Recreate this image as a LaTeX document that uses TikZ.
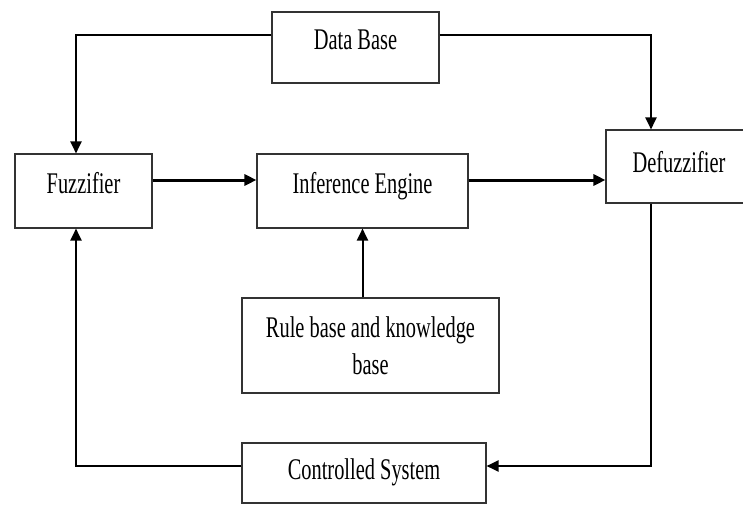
\documentclass[tikz,border=0pt]{standalone}
\usepackage{fontspec}
\newfontfamily\blkfont[FakeStretch=0.68]{Liberation Serif}
\usetikzlibrary{arrows.meta,positioning,shadows}
\tikzset{
  blk/.style={draw=black!80, line width=1.1pt, fill=white, rectangle, inner sep=0pt, align=center,
    font=\blkfont\fontsize{30}{37}\selectfont,
    drop shadow={shadow xshift=0.9pt, shadow yshift=-1.3pt, fill=black!40, opacity=1}},
  lnk/.style={line width=2pt, -{Triangle[length=12pt,width=11pt]}},
  flow/.style={line width=3pt, -{Triangle[length=12pt,width=11pt]}}
}
\begin{document}
\begin{tikzpicture}[x=1pt, y=-1pt]
  \useasboundingbox (0,0) rectangle (743,506);
  \node[blk, minimum width=167pt, minimum height=71pt, text depth=15pt] (db) at (355.5,47.5) {Data Base};
  \node[blk, minimum width=137pt, minimum height=74pt, text depth=16pt] (fz) at (83.5,191) {Fuzzifier};
  \node[blk, minimum width=211pt, minimum height=74pt, text depth=16pt] (ie) at (362.5,191) {Inference Engine};
  \node[blk, minimum width=146pt, minimum height=73pt, text depth=10pt] (dfz) at (679,166.5) {Defuzzifier};
  \node[blk, minimum width=257pt, minimum height=95pt] (rb) at (370.5,345.5) {Rule base and knowledge\\base};
  \node[blk, minimum width=244pt, minimum height=60pt, text depth=8pt] (cs) at (364,473) {Controlled System};
  \coordinate (dbl) at (76,35);
  \coordinate (dbr) at (651,35);
  \coordinate (csr) at (651,466);
  \coordinate (csl) at (76,466);
  \draw[lnk] (db.west |- dbl) -- (dbl) -- (fz.north -| dbl);
  \draw[lnk] (db.east |- dbr) -- (dbr) -- (dfz.north -| dbr);
  \draw[flow] ([yshift=11pt]fz.east) -- ([yshift=11pt]ie.west);
  \draw[flow] ([yshift=11pt]ie.east) -- ([yshift=11pt]ie.east -| dfz.west);
  \draw[lnk] (rb.north -| ie.south) -- (ie.south);
  \draw[lnk] (dfz.south -| csr) -- (csr) -- (cs.east |- csr);
  \draw[lnk] (cs.west |- csl) -- (csl) -- (fz.south -| csl);
\end{tikzpicture}
\end{document}
